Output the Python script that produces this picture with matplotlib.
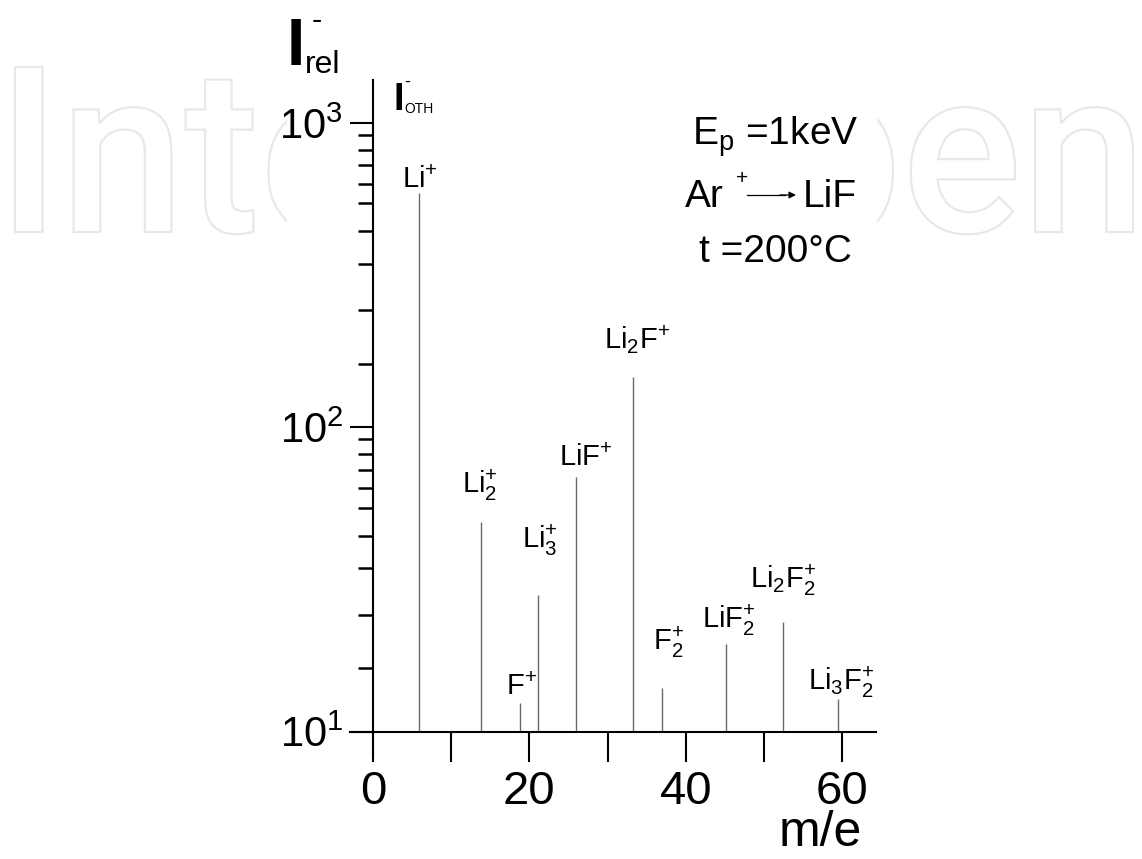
import numpy as np
import matplotlib
matplotlib.use('Agg')
import matplotlib.pyplot as plt
from matplotlib.textpath import TextPath
from matplotlib.font_manager import FontProperties
from matplotlib.patches import PathPatch, Rectangle
from matplotlib.transforms import Affine2D
from matplotlib.ticker import FixedLocator, NullFormatter

W, H = 1142, 859

# peaks
mass = [5.9, 13.8, 18.8, 21.1, 26.0, 33.2, 37.0, 45.1, 52.4, 59.5]
intensity = [589, 48.8, 12.4, 28.1, 68.6, 146, 13.9, 19.4, 22.9, 12.8]
ions = ['Li$^{+}$', 'Li$_{2}^{+}$', 'F$^{+}$', 'Li$_{3}^{+}$', 'LiF$^{+}$',
        'Li$_{2}$F$^{+}$', 'F$_{2}^{+}$', 'LiF$_{2}^{+}$',
        'Li$_{2}$F$_{2}^{+}$', 'Li$_{3}$F$_{2}^{+}$']

xticks_major = [0, 20, 40, 60]
xticks_minor = [10, 30, 50]
yticks_major = [10, 100, 1000]
ytick_labels = ['$10^{1}$', '$10^{2}$', '$10^{3}$']
# the scanned axis has its own (not quite log) minor spacing in each decade
minor_mult = [1.62, 2.42, 3.44, 4.4, 5.44, 6.32, 7.25, 8.16, 9.13]

# label offsets from the top of each line, pixels
label_dx = [1, -1, 1, 2, 9, 4, 6, 3, 0, 3]
label_dy = [5, 29, 8, 47, 11, 28, 38, 16, 34, 9]

plt.rcParams['font.family'] = ['Liberation Sans', 'DejaVu Sans']
plt.rcParams['mathtext.fontset'] = 'custom'
plt.rcParams['mathtext.rm'] = 'Liberation Sans'
plt.rcParams['mathtext.default'] = 'regular'


def px(x, y):
    # pixel position (from top-left) -> figure fraction
    return x / W, 1 - y / H


fig = plt.figure(figsize=(W / 100, H / 100), dpi=100)

# faint outlined watermark behind the chart
fp = FontProperties(family='Roboto', weight='medium')
tp = TextPath((0, 0), 'IntechOpen', size=100, prop=fp)
bb = tp.get_extents()
cap = TextPath((0, 0), 'I', size=100, prop=fp).get_extents()
sx = (1133 - 15) / bb.width
sy = 165 / cap.height
tr = Affine2D().scale(sx, sy).translate(15 - bb.x0 * sx, H - 232).scale(1 / W, 1 / H) + fig.transFigure
wm = PathPatch(tp, transform=tr, fc='white', ec='#e8e8e8', lw=1.6, zorder=-3)
fig.add_artist(wm)
fig.add_artist(Rectangle((287 / W, 0), (877 - 287) / W, 1, transform=fig.transFigure,
                         fc='white', ec='none', zorder=-2))

ax = fig.add_axes([350 / W, (H - 757) / H, (876 - 350) / W, (757 - 80) / H])
ax.patch.set_alpha(0)
ax.set_yscale('log')
ax.set_xlim(-2.94, 64.32)
ax.set_ylim(8.25, 1384)

ax.vlines(mass, 10, intensity, colors='#6a6a6a', linewidth=1.0)
for m, v, lab, dx, dy in zip(mass, intensity, ions, label_dx, label_dy):
    ax.annotate(lab, (m, v), xytext=(dx, dy), textcoords='offset pixels',
                ha='center', va='baseline', fontsize=21)

for s in ['top', 'right']:
    ax.spines[s].set_visible(False)
ax.spines['left'].set_position(('data', 0))
ax.spines['bottom'].set_position(('data', 10))
for s in ['left', 'bottom']:
    ax.spines[s].set_linewidth(1.5)

ax.set_xticks(xticks_major)
ax.set_xticklabels([str(t) for t in xticks_major])
ax.xaxis.set_minor_locator(FixedLocator(xticks_minor))
ax.tick_params(axis='x', which='both', direction='out', length=21.5, width=1.5,
               labelsize=34, pad=6)

ax.set_yticks(yticks_major)
ax.set_yticklabels(ytick_labels)
yminor = [d * f for d in yticks_major[:2] for f in minor_mult]
ax.yaxis.set_minor_locator(FixedLocator(yminor))
ax.yaxis.set_minor_formatter(NullFormatter())
ax.tick_params(axis='y', which='major', direction='out', length=16.5, width=1.5,
               labelsize=30, pad=5)
ax.tick_params(axis='y', which='minor', direction='out', length=10.5, width=1.8)

# axis captions
fig.text(*px(287, 65), 'I', fontsize=47.5, fontweight='bold', ha='left', va='baseline')
fig.text(*px(305, 73), 'rel', fontsize=23, ha='left', va='baseline')
fig.text(*px(317, 21), '-', fontsize=22, ha='center', va='center')
fig.text(*px(394, 110), 'I', fontsize=27.5, fontweight='bold', ha='left', va='baseline')
fig.text(*px(404, 113), 'ОТН', fontsize=10, ha='left', va='baseline')
fig.text(*px(407, 82), '-', fontsize=13, ha='center', va='center')
fig.text(*px(820, 846), 'm/e', fontsize=36, ha='center', va='baseline')

# experiment conditions
fig.text(*px(858, 145), 'E$_{p}$ =1keV', fontsize=28, ha='right', va='baseline')
fig.text(*px(685, 207), 'Ar', fontsize=28, ha='left', va='baseline')
fig.text(*px(742, 178), '+', fontsize=15, ha='center', va='center')
fig.add_artist(plt.Line2D([747 / W, 785 / W], [1 - 195 / H, 1 - 195 / H],
                          transform=fig.transFigure, color='black', lw=0.9))
ax.annotate('', xy=px(796, 195), xytext=px(780, 195), xycoords='figure fraction',
            textcoords='figure fraction',
            arrowprops=dict(arrowstyle='-|>', color='black', lw=0.9, mutation_scale=10,
                            shrinkA=0, shrinkB=0))
fig.text(*px(857, 207), 'LiF', fontsize=28, ha='right', va='baseline')
fig.text(*px(852, 262), 't =200°C', fontsize=28, ha='right', va='baseline')

fig.savefig('out.png', dpi=100)
